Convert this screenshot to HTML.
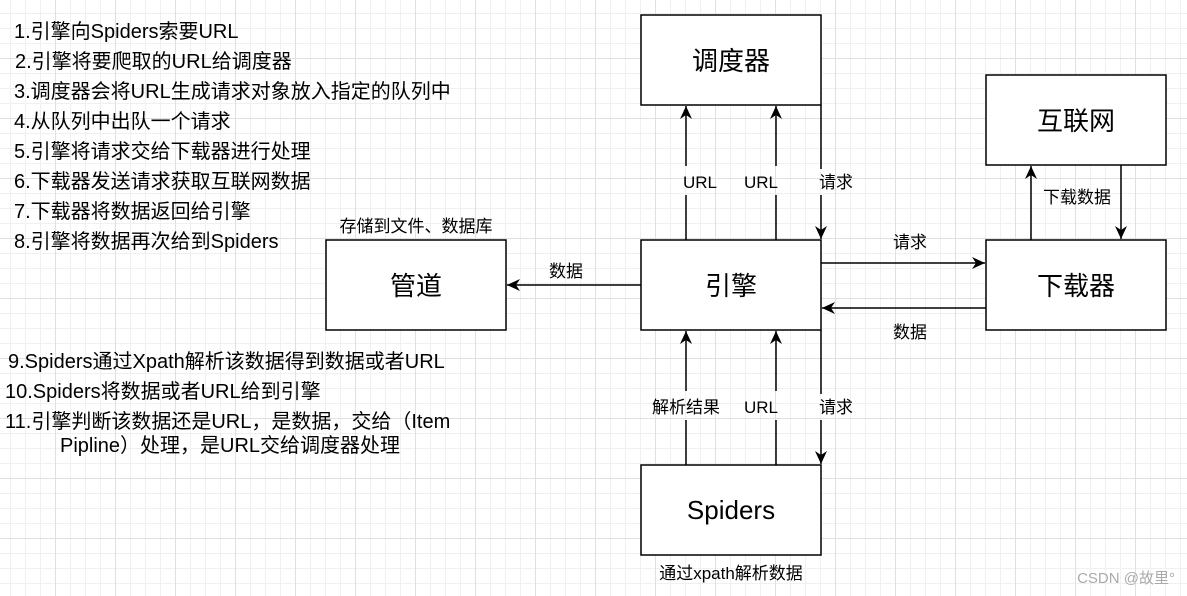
<!DOCTYPE html><html><head><meta charset="utf-8"><style>
body{margin:0;width:1187px;height:596px;overflow:hidden;background:#fff;
background-image:linear-gradient(#e0e0e0 1px,transparent 1px),linear-gradient(90deg,#e0e0e0 1px,transparent 1px),linear-gradient(#f0f0f0 1px,transparent 1px),linear-gradient(90deg,#f0f0f0 1px,transparent 1px);
background-size:60px 60px,60px 60px,15px 15px,15px 15px;background-position:-5px -2px;
font-family:"Liberation Sans","Noto Sans CJK SC",sans-serif;position:relative}
.t{position:absolute;font-size:20px;color:#000;white-space:nowrap;line-height:24px}
</style></head><body>
<svg width="1187" height="596" style="position:absolute;left:0;top:0" font-family="Liberation Sans, Noto Sans CJK SC, sans-serif">
<defs><marker id="a" markerWidth="14" markerHeight="14" refX="13" refY="6" orient="auto" markerUnits="userSpaceOnUse"><path d="M0,0 L13,6 L0,12 L4,6z" fill="#000"/></marker></defs>
<g fill="#fff" stroke="#000" stroke-width="1.5">
<rect x="641" y="15" width="180" height="90"/><rect x="641" y="240" width="180" height="90"/><rect x="641" y="465" width="180" height="90"/>
<rect x="326" y="240" width="180" height="90"/><rect x="986" y="240" width="180" height="90"/><rect x="986" y="75" width="180" height="90"/>
</g>
<g stroke="#000" stroke-width="1.5" fill="none">
<path d="M686,240V195M686,166V106" marker-end="url(#a)"/>
<path d="M776,240V195M776,166V106" marker-end="url(#a)"/>
<path d="M821,105V169M821,195V239" marker-end="url(#a)"/>
<path d="M686,465V420M686,391V331" marker-end="url(#a)"/>
<path d="M776,465V420M776,391V331" marker-end="url(#a)"/>
<path d="M821,330V394M821,420V464" marker-end="url(#a)"/>
<path d="M641,285H507" marker-end="url(#a)"/>
<path d="M821,263H985" marker-end="url(#a)"/>
<path d="M986,308H822" marker-end="url(#a)"/>
<path d="M1031,240V166" marker-end="url(#a)"/>
<path d="M1121,165V239" marker-end="url(#a)"/>
</g>
<g font-size="17" text-anchor="middle">
<text x="700" y="188">URL</text><text x="761" y="188">URL</text><text x="836" y="188">请求</text>
<text x="686" y="413">解析结果</text><text x="761" y="413">URL</text><text x="836" y="413">请求</text>
<text x="566" y="277">数据</text><text x="910" y="248">请求</text><text x="910" y="338">数据</text>
<text x="1077" y="203">下载数据</text><text x="416" y="232">存储到文件、数据库</text><text x="731" y="579">通过xpath解析数据</text>
</g>
<g font-size="26" text-anchor="middle">
<text x="731" y="70">调度器</text><text x="731" y="295">引擎</text><text x="731" y="519">Spiders</text>
<text x="416" y="295">管道</text><text x="1076" y="295">下载器</text><text x="1076" y="130">互联网</text>
</g>
<text x="1175" y="583" font-size="15" fill="#aaa" text-anchor="end">CSDN @故里°</text>
</svg>
<div class="t" style="left:14px;top:20px">1.引擎向Spiders索要URL</div>
<div class="t" style="left:15px;top:50px">2.引擎将要爬取的URL给调度器</div>
<div class="t" style="left:14px;top:80px">3.调度器会将URL生成请求对象放入指定的队列中</div>
<div class="t" style="left:14px;top:110px">4.从队列中出队一个请求</div>
<div class="t" style="left:14px;top:140px">5.引擎将请求交给下载器进行处理</div>
<div class="t" style="left:14px;top:170px">6.下载器发送请求获取互联网数据</div>
<div class="t" style="left:14px;top:200px">7.下载器将数据返回给引擎</div>
<div class="t" style="left:14px;top:230px">8.引擎将数据再次给到Spiders</div>
<div class="t" style="left:8px;top:350px">9.Spiders通过Xpath解析该数据得到数据或者URL</div>
<div class="t" style="left:5px;top:380px">10.Spiders将数据或者URL给到引擎</div>
<div class="t" style="left:5px;top:410px">11.引擎判断该数据还是URL，是数据，交给（Item</div>
<div class="t" style="left:60px;top:434px">Pipline）处理，是URL交给调度器处理</div>
</body></html>
